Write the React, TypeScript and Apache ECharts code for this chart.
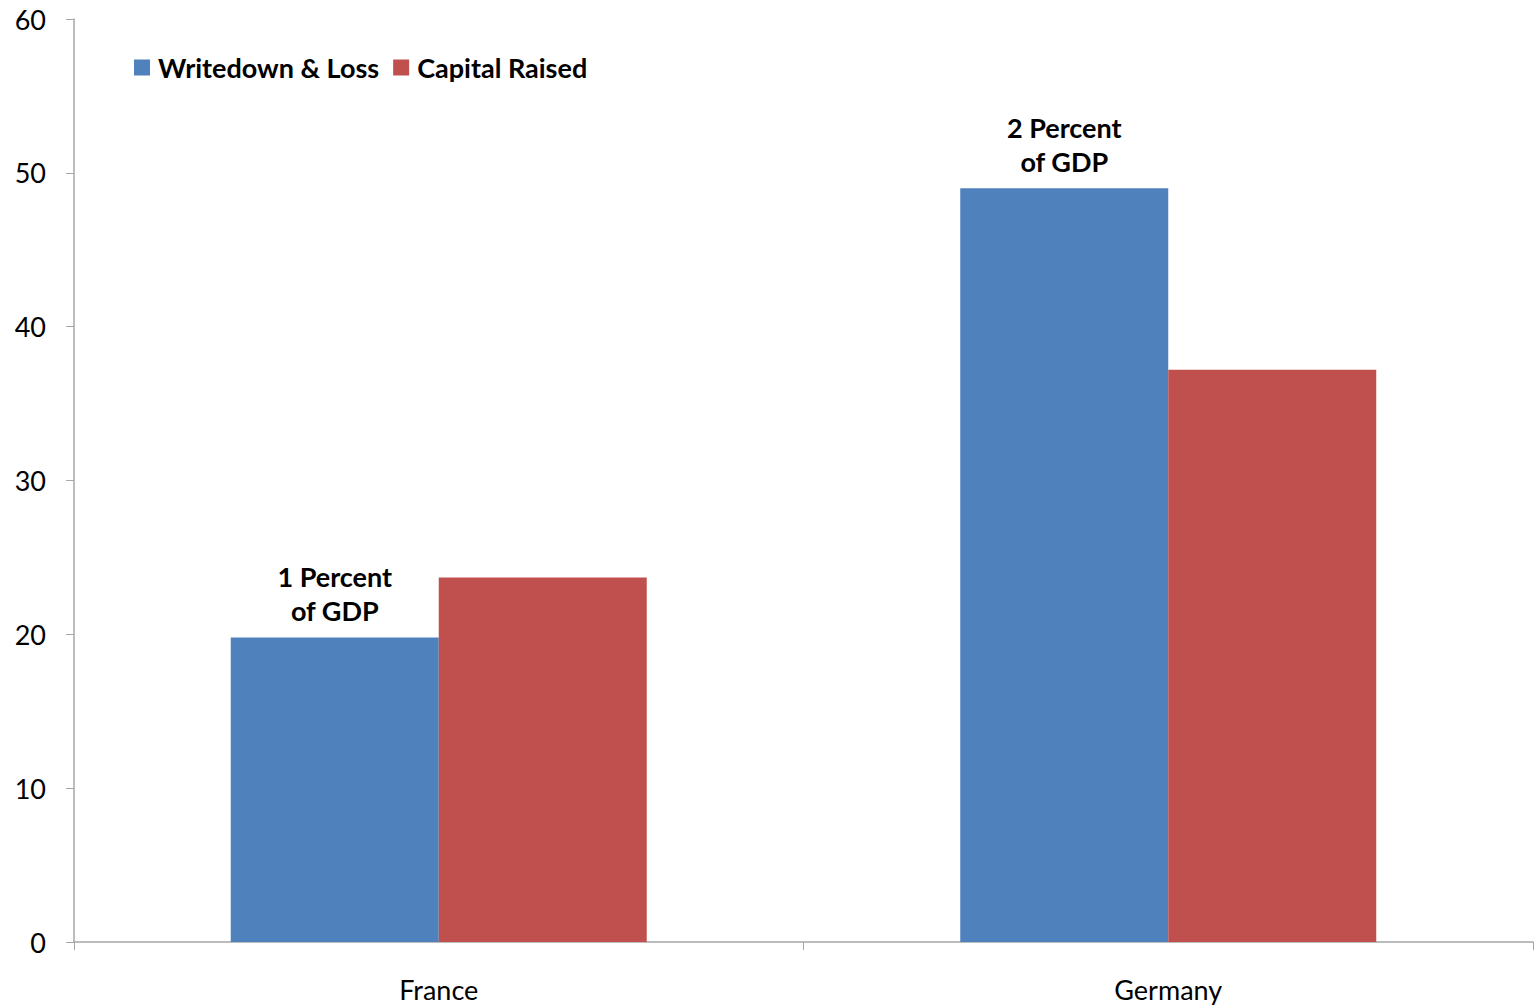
import React, { useEffect, useRef } from "react";
import * as echarts from "echarts";

const categories = ["France", "Germany"];
const writedownLoss = [19.8, 49.0];
const capitalRaised = [23.7, 37.2];
const annotations = ["1 Percent\nof GDP", "2 Percent\nof GDP"];
const seriesNames = ["Writedown & Loss", "Capital Raised"];

const FONT = "Lato, 'Open Sans', sans-serif";

export default function App() {
  const ref = useRef<HTMLDivElement>(null);
  useEffect(() => {
    if (!ref.current) return;
    const chart = echarts.init(ref.current, undefined, { renderer: "svg" });
    chart.setOption({
      animation: false,
      backgroundColor: "#ffffff",
      textStyle: { fontFamily: FONT },
      grid: { left: 74, right: 6, top: 19, bottom: 65, containLabel: false },
      legend: {
        left: 129,
        top: 49,
        itemWidth: 16,
        itemHeight: 16,
        itemGap: 14,
        icon: "rect",
        textStyle: { fontFamily: FONT, fontSize: 27, fontWeight: "bold", color: "#000", padding: [0, 0, 0, 3] },
        data: seriesNames,
      },
      xAxis: {
        type: "category",
        data: categories,
        axisLine: { lineStyle: { color: "#a6a6a6", width: 1.5 } },
        axisTick: { show: true, length: 8, lineStyle: { color: "#a6a6a6" } },
        axisLabel: { fontFamily: FONT, fontSize: 27, color: "#000", margin: 34 },
      },
      yAxis: {
        type: "value",
        min: 0,
        max: 60,
        interval: 10,
        splitLine: { show: false },
        axisLine: { show: true, lineStyle: { color: "#a6a6a6", width: 1.5 } },
        axisTick: { show: true, length: 8, lineStyle: { color: "#a6a6a6" } },
        axisLabel: { fontFamily: FONT, fontSize: 27, color: "#000", margin: 28 },
      },
      series: [
        {
          name: seriesNames[0],
          type: "bar",
          barWidth: 208,
          barGap: "0%",
          itemStyle: { color: "#4F81BD" },
          data: writedownLoss.map((v, i) => ({
            value: v,
            label: {
              show: true,
              position: "top",
              distance: 10,
              formatter: annotations[i],
              fontFamily: FONT,
              fontSize: 27,
              fontWeight: "bold",
              color: "#000",
              lineHeight: 34,
              align: "center",
            },
          })),
        },
        {
          name: seriesNames[1],
          type: "bar",
          barWidth: 208,
          barGap: "0%",
          itemStyle: { color: "#C0504D" },
          data: capitalRaised,
        },
      ],
    });
    return () => chart.dispose();
  }, []);
  return (
    <div
      ref={ref}
      style={{ position: "fixed", left: 0, top: 0, width: 1539, height: 1007, background: "#fff" }}
    />
  );
}
